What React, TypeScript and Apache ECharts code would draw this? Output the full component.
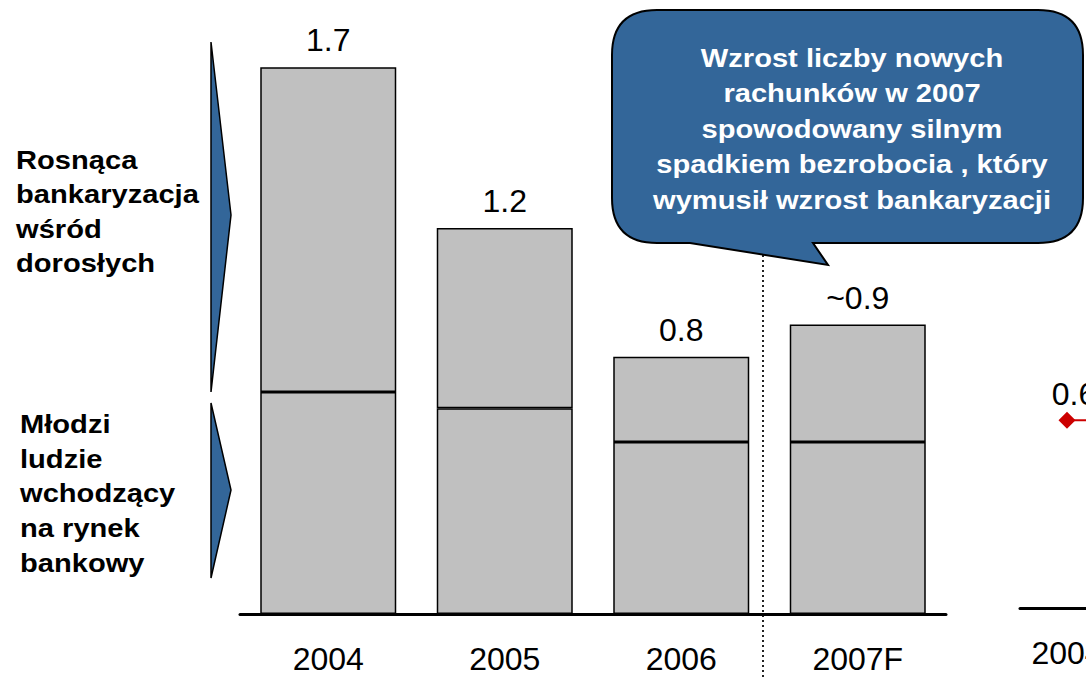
import React, { useEffect, useRef } from 'react';
import * as echarts from 'echarts';

const FONT = '"Liberation Sans", Arial, Helvetica, sans-serif';

const categories = ['2004', '2005', '2006', '2007F'];
const totals = [1.7, 1.2, 0.8, 0.9];
const youngPart = [0.69, 0.64, 0.535, 0.535];
const valueLabels = ['1.7', '1.2', '0.8', '~0.9'];

const sideCategories = ['2004', '2005'];
const sideValues = [0.6, 0.6];

const leftLabelTop = 'Rosnąca\nbankaryzacja\nwśród\ndorosłych';
const leftLabelBottom = 'Młodzi\nludzie\nwchodzący\nna rynek\nbankowy';
const calloutText =
  'Wzrost liczby nowych\nrachunków w 2007\nspowodowany silnym\nspadkiem bezrobocia , który\nwymusił wzrost bankaryzacji';

const CALLOUT_D =
  'M657 10 L1038 10 Q1083 10 1083 55 L1083 198 Q1083 243 1038 243 L813 243 L828 265 L690 243 L657 243 Q612 243 612 198 L612 55 Q612 10 657 10 Z';

export default function App() {
  const ref = useRef<HTMLDivElement>(null);
  useEffect(() => {
    document.body.style.margin = '0';
    echarts.graphic.registerShape('callout', echarts.graphic.extendPath(CALLOUT_D, {}));
    const chart = echarts.init(ref.current!, null, { renderer: 'svg' });
    const adults = totals.map((t, i) => +(t - youngPart[i]).toFixed(3));
    const barStyle = { color: '#C0C0C0', borderColor: '#000', borderWidth: 1.5 };
    const axisCommon = {
      type: 'category',
      axisLine: { lineStyle: { color: '#000', width: 3 } },
      axisTick: { show: false },
      axisLabel: { fontSize: 32, color: '#000', fontFamily: FONT, margin: 29 },
    };
    chart.setOption({
      animation: false,
      backgroundColor: '#fff',
      grid: [
        { left: 240, top: 35, width: 706, height: 579, outerBoundsMode: 'none' },
        { left: 1020, top: 45, width: 188, height: 563, outerBoundsMode: 'none' },
      ],
      xAxis: [
        { ...axisCommon, gridIndex: 0, data: categories },
        { ...axisCommon, gridIndex: 1, data: sideCategories },
      ],
      yAxis: [
        { gridIndex: 0, type: 'value', min: 0, max: 1.8, show: false },
        { gridIndex: 1, type: 'value', min: 0, max: 1.8, show: false },
      ],
      series: [
        {
          type: 'bar',
          stack: 'a',
          data: youngPart,
          barWidth: 136,
          itemStyle: barStyle,
        },
        {
          type: 'bar',
          stack: 'a',
          data: adults,
          barWidth: 136,
          itemStyle: barStyle,
          label: {
            show: true,
            position: 'top',
            distance: 11,
            fontSize: 32,
            color: '#000',
            fontFamily: FONT,
            formatter: (p: any) => valueLabels[p.dataIndex],
          },
        },
        {
          type: 'line',
          xAxisIndex: 1,
          yAxisIndex: 1,
          data: sideValues,
          symbol: 'diamond',
          symbolSize: 17,
          lineStyle: { color: '#CC0000', width: 2 },
          itemStyle: { color: '#CC0000' },
          label: {
            show: true,
            position: 'top',
            distance: 2,
            offset: [7, 0],
            fontSize: 32,
            color: '#000',
            fontFamily: FONT,
            formatter: (p: any) => p.value.toFixed(1),
          },
        },
      ],
      graphic: [
        {
          type: 'line',
          shape: { x1: 763, y1: 250, x2: 763, y2: 680 },
          style: { stroke: '#222', lineWidth: 2, lineDash: [2, 3] },
        },
        {
          type: 'polygon',
          shape: { points: [[211, 42], [231, 215], [211, 392]] },
          style: { fill: '#336699', stroke: '#000', lineWidth: 1.5 },
        },
        {
          type: 'polygon',
          shape: { points: [[211, 403], [231, 490], [211, 578]] },
          style: { fill: '#336699', stroke: '#000', lineWidth: 1.5 },
        },
        {
          type: 'text',
          x: 16,
          y: 211.5,
          scaleX: 1.12,
          style: {
            text: leftLabelTop,
            fontSize: 26,
            fontWeight: 'bold',
            fontFamily: FONT,
            fill: '#000',
            align: 'left',
            verticalAlign: 'middle',
            lineHeight: 34.5,
          },
        },
        {
          type: 'text',
          x: 20,
          y: 493.5,
          scaleX: 1.12,
          style: {
            text: leftLabelBottom,
            fontSize: 26,
            fontWeight: 'bold',
            fontFamily: FONT,
            fill: '#000',
            align: 'left',
            verticalAlign: 'middle',
            lineHeight: 34.7,
          },
        },
        {
          type: 'callout',
          x: 0,
          y: 0,
          scaleX: 1,
          scaleY: 1,
          style: { fill: '#336699', stroke: '#000', lineWidth: 2 },
        },
        {
          type: 'text',
          x: 852,
          y: 129,
          scaleX: 1.12,
          style: {
            text: calloutText,
            fontSize: 26,
            fontWeight: 'bold',
            fontFamily: FONT,
            fill: '#fff',
            align: 'center',
            verticalAlign: 'middle',
            lineHeight: 35.5,
          },
        },
      ],
    });
    return () => chart.dispose();
  }, []);
  return (
    <div
      ref={ref}
      style={{ position: 'absolute', left: 0, top: 0, width: 1086, height: 680 }}
    />
  );
}
